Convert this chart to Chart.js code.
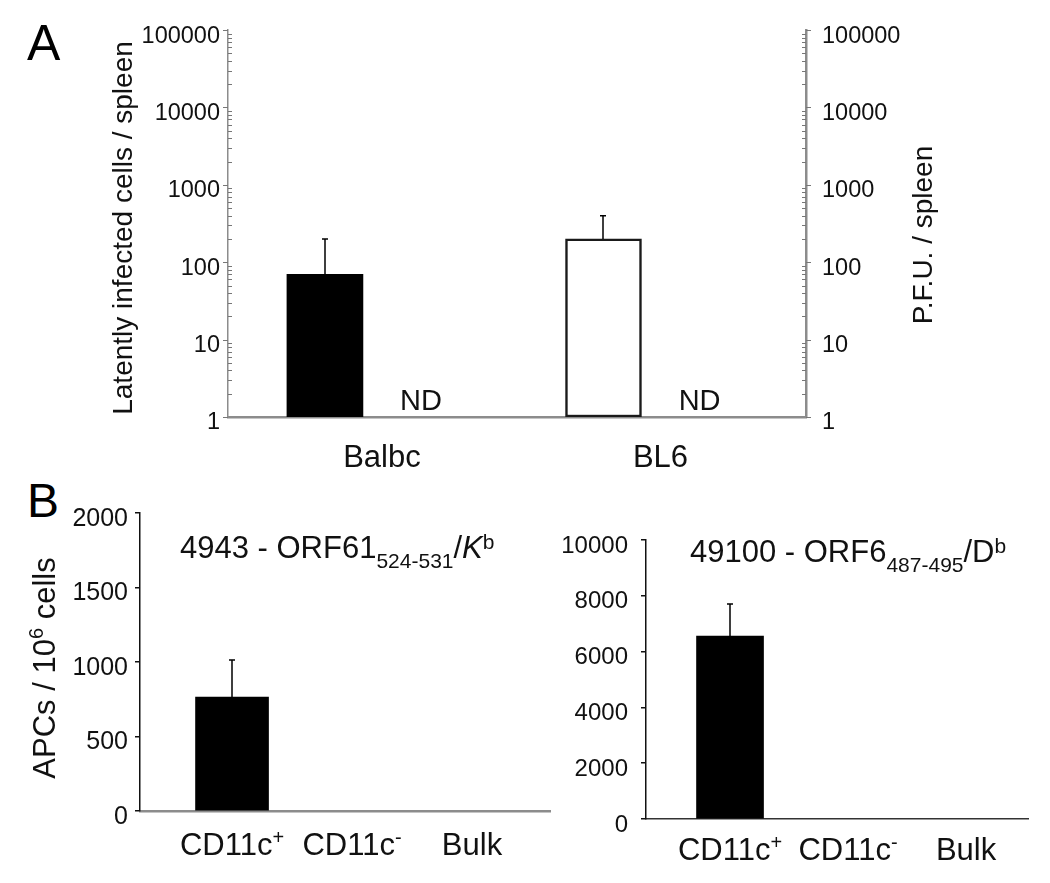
<!DOCTYPE html>
<html>
<head>
<meta charset="utf-8">
<title>Latency and APC frequency</title>
<script src="https://cdn.jsdelivr.net/npm/chart.js@4.4.1/dist/chart.umd.min.js"></script>
<style>
  html, body { margin: 0; padding: 0; background: #fff; }
  #page { position: relative; width: 1050px; height: 883px; overflow: hidden; }
  #page canvas { position: absolute; }
  .letter { position: absolute; font-family: 'Liberation Sans', Arial, sans-serif; line-height: 1; color: #000; }
</style>
</head>
<body>
<div id="page">
  <div class="letter" style="left:27px; top:18px; font-size:50px">A</div>
  <div class="letter" style="left:27px; top:477px; font-size:48px">B</div>
  <canvas id="chartA" width="1050" height="490" style="left:0; top:0"></canvas>
  <canvas id="chartB1" width="560" height="403" style="left:0; top:480px"></canvas>
  <canvas id="chartB2" width="520" height="403" style="left:530px; top:480px"></canvas>
</div>
<script>
const FONT = "'Liberation Sans', Arial, Helvetica, sans-serif";
Chart.defaults.font.family = FONT;
Chart.defaults.color = '#111';
Chart.defaults.animation = false;
Chart.defaults.responsive = false;
Chart.defaults.plugins.legend.display = false;
Chart.defaults.plugins.tooltip.enabled = false;

// A - latent load (left axis) and P.F.U. (right axis) per spleen
const strains = ['Balbc', 'BL6'];
const strainColors = ['#000000', '#ffffff'];
const latentCells = [70, 200];
const latentCellsSD = [130, 200];
const pfuPerSpleen = [null, null];   // ND
const logTickLabels = [1, 10, 100, 1000, 10000, 100000];

// B - APCs / 10^6 cells
const cellTypes = ['CD11c', 'CD11c', 'Bulk'];
const cellTypeSup = ['+', '-', ''];
const apc4943 = [765, 0, 0];
const apc4943SD = [248, 0, 0];
const apc49100 = [6560, 0, 0];
const apc49100SD = [1150, 0, 0];
const ticks4943 = [0, 500, 1000, 1500, 2000];
const ticks49100 = [0, 2000, 4000, 6000, 8000, 10000];

// log axis ticks: decades plus 2..9 in between
const logTicks = [];
logTickLabels.forEach((d, i) => {
    logTicks.push(d);
    if (i < logTickLabels.length - 1) {
        for (let k = 2; k <= 9; k++) logTicks.push(d * k);
    }
});

const ND_SHIFT = 0.345;   // PFU slot next to each strain bar

function richFont(p) {
    return (p.italic ? 'italic ' : '') + p.size + 'px ' + FONT;
}

// draws text made of parts (sub/superscripts), left or centered at x
function drawRich(ctx, parts, x, y, align) {
    let w = 0;
    const widths = parts.map(p => {
        ctx.font = richFont(p);
        const pw = ctx.measureText(p.text).width;
        w += pw;
        return pw;
    });
    let cx = align === 'center' ? x - w / 2 : x;
    ctx.textAlign = 'left';
    ctx.textBaseline = 'alphabetic';
    parts.forEach((p, i) => {
        ctx.font = richFont(p);
        ctx.fillText(p.text, cx, y + (p.dy || 0));
        cx += widths[i];
    });
}

function drawRotated(ctx, parts, x, y) {
    ctx.save();
    ctx.translate(x, y);
    ctx.rotate(-Math.PI / 2);
    drawRich(ctx, parts, 0, 0, 'center');
    ctx.restore();
}

const errorBars = {
    id: 'errorBars',
    afterDatasetsDraw(chart, args, opts) {
        const di = opts.dataset || 0;
        const meta = chart.getDatasetMeta(di);
        const yScale = chart.scales[meta.yAxisID];
        const points = chart.data.datasets[di].data;
        const ctx = chart.ctx;
        ctx.save();
        ctx.strokeStyle = '#000';
        ctx.lineWidth = 1.5;
        meta.data.forEach((bar, i) => {
            const sd = opts.sd[i];
            if (!sd) return;
            const v = points[i].y;
            const x = Math.round(bar.x);
            const y0 = yScale.getPixelForValue(v);
            const y1 = yScale.getPixelForValue(v + sd);
            ctx.beginPath();
            ctx.moveTo(x, y0);
            ctx.lineTo(x, y1);
            ctx.moveTo(x - 3, y1);
            ctx.lineTo(x + 3, y1);
            ctx.stroke();
        });
        ctx.restore();
    }
};

// major ticks outside, minor ticks inside the plot
const logTickMarks = {
    id: 'logTickMarks',
    afterDraw(chart) {
        const ctx = chart.ctx;
        ['y', 'y2'].forEach(id => {
            const s = chart.scales[id];
            const out = s.position === 'left' ? -1 : 1;
            const x0 = s.position === 'left' ? s.right : s.left;
            ctx.save();
            ctx.strokeStyle = '#777';
            ctx.lineWidth = 1;
            s.ticks.forEach(t => {
                const major = logTickLabels.includes(t.value);
                const y = Math.round(s.getPixelForValue(t.value)) + 0.5;
                ctx.beginPath();
                ctx.moveTo(x0, y);
                ctx.lineTo(x0 + (major ? out * 5 : -out * 4), y);
                ctx.stroke();
            });
            ctx.restore();
        });
    }
};

const textA = {
    id: 'textA',
    afterDraw(chart) {
        const ctx = chart.ctx;
        const xs = chart.scales.x;
        ctx.save();
        ctx.fillStyle = '#111';
        ctx.font = '29px ' + FONT;
        ctx.textAlign = 'center';
        ctx.textBaseline = 'alphabetic';
        pfuPerSpleen.forEach((v, i) => {
            if (v == null) ctx.fillText('ND', xs.getPixelForValue(i + ND_SHIFT), chart.chartArea.bottom - 7);
        });
        drawRotated(ctx, [{ text: 'Latently infected cells / spleen', size: 28 }], 132, 228);
        drawRotated(ctx, [{ text: 'P.F.U. / spleen', size: 28 }], 932, 235);
        ctx.restore();
    }
};

function logAxis(position, width, padding, borderWidth) {
    return {
        type: 'logarithmic',
        position: position,
        min: 1,
        max: 100000,
        afterBuildTicks: s => { s.ticks = logTicks.map(v => ({ value: v })); },
        ticks: {
            autoSkip: false,
            padding: padding,
            labelOffset: 6,
            color: '#111',
            font: { size: 23.5 },
            callback: v => logTickLabels.includes(v) ? String(v) : ''
        },
        grid: { display: false, drawOnChartArea: false, drawTicks: false },
        border: { display: true, color: '#8c8c8c', width: borderWidth },
        afterFit: s => { s.width = width; }
    };
}

new Chart(document.getElementById('chartA'), {
    type: 'bar',
    data: {
        datasets: [
            {
                label: 'Latently infected cells / spleen',
                data: strains.map((s, i) => ({ x: i, y: latentCells[i] })),
                yAxisID: 'y',
                backgroundColor: strainColors,
                borderColor: '#1a1a1a',
                borderWidth: [0, 2.5],
                borderSkipped: false,
                barThickness: 76,
                grouped: false
            },
            {
                label: 'P.F.U. / spleen',
                data: strains.map((s, i) => ({ x: i + ND_SHIFT, y: pfuPerSpleen[i] })),
                yAxisID: 'y2',
                backgroundColor: '#000',
                barThickness: 76,
                grouped: false
            }
        ]
    },
    options: {
        layout: { padding: { top: 27, left: 0, right: 0, bottom: 0 } },
        scales: {
            x: {
                type: 'linear',
                min: -0.348,
                max: 1.727,
                offset: false,
                afterBuildTicks: s => { s.ticks = strains.map((n, i) => ({ value: i })); },
                ticks: {
                    autoSkip: false,
                    maxRotation: 0,
                    padding: 23,
                    labelOffset: 57,
                    color: '#111',
                    font: { size: 31 },
                    callback: v => strains[v]
                },
                grid: { display: false, drawTicks: false },
                border: { color: '#8c8c8c', width: 2.5 },
                afterFit: s => { s.height = 73; }
            },
            y: logAxis('left', 228, 8, 1.5),
            y2: logAxis('right', 244, 16, 2.5)
        },
        plugins: { errorBars: { sd: latentCellsSD, dataset: 0 } }
    },
    plugins: [errorBars, logTickMarks, textA]
});

function panelB(id, o) {
    const textB = {
        id: 'textB',
        afterDraw(chart) {
            const ctx = chart.ctx;
            const xs = chart.scales.x;
            ctx.save();
            ctx.fillStyle = '#111';
            drawRich(ctx, o.title, o.titleX, o.titleY, 'left');
            cellTypes.forEach((c, i) => {
                drawRich(ctx, [
                    { text: c, size: 31 },
                    { text: cellTypeSup[i], size: 20, dy: -11 }
                ], xs.getPixelForValue(i), chart.chartArea.bottom + o.labelGap, 'center');
            });
            if (o.yTitle) drawRotated(ctx, o.yTitle, o.yTitleX, o.yTitleY);
            ctx.restore();
        }
    };
    new Chart(document.getElementById(id), {
        type: 'bar',
        data: {
            datasets: [{
                label: o.label,
                data: cellTypes.map((c, i) => ({ x: i, y: o.values[i] })),
                backgroundColor: c => (c.raw && c.raw.y > 0) ? '#000' : 'rgba(0,0,0,0)',
                borderWidth: 0,
                barThickness: o.barWidth
            }]
        },
        options: {
            layout: { padding: { top: o.top, right: o.right, left: 0, bottom: 0 } },
            scales: {
                x: {
                    type: 'linear',
                    min: o.xMin,
                    max: o.xMax,
                    offset: false,
                    ticks: { display: false },
                    grid: { display: false, drawTicks: false },
                    border: { color: o.baseColor, width: o.baseWidth },
                    afterFit: s => { s.height = o.xHeight; }
                },
                y: {
                    min: 0,
                    max: o.ticks[o.ticks.length - 1],
                    afterBuildTicks: s => { s.ticks = o.ticks.map(v => ({ value: v })); },
                    ticks: {
                        padding: o.tickPad,
                        labelOffset: 6,
                        color: '#111',
                        font: { size: o.tickSize },
                        callback: v => String(v)
                    },
                    grid: { drawOnChartArea: false, drawTicks: true, tickLength: 5, color: '#111', lineWidth: 1.5 },
                    border: { color: '#111', width: 1.5 },
                    afterFit: s => { s.width = o.yWidth; }
                }
            },
            plugins: { errorBars: { sd: o.sd, dataset: 0 } }
        },
        plugins: [errorBars, textB]
    });
}

panelB('chartB1', {
    label: '4943 - ORF61 524-531/Kb',
    values: apc4943, sd: apc4943SD, ticks: ticks4943,
    barWidth: 73, top: 33, right: 10, xHeight: 72, yWidth: 140,
    xMin: -0.767, xMax: 2.65,
    baseColor: '#8c8c8c', baseWidth: 2.5, tickPad: 7, tickSize: 25, labelGap: 44,
    title: [
        { text: '4943 - ORF61', size: 31 },
        { text: '524-531', size: 21, dy: 10 },
        { text: '/', size: 31 },
        { text: 'K', size: 31, italic: true },
        { text: 'b', size: 21, dy: -9 }
    ],
    titleX: 180, titleY: 78,
    yTitle: [
        { text: 'APCs / 10', size: 31 },
        { text: '6', size: 20, dy: -12 },
        { text: ' cells', size: 31 }
    ],
    yTitleX: 55, yTitleY: 188
});

panelB('chartB2', {
    label: '49100 - ORF6 487-495/Db',
    values: apc49100, sd: apc49100SD, ticks: ticks49100,
    barWidth: 67, top: 60, right: 22, xHeight: 64, yWidth: 116,
    xMin: -0.712, xMax: 2.525,
    baseColor: '#333', baseWidth: 1.5, tickPad: 13, tickSize: 24, labelGap: 41,
    title: [
        { text: '49100 - ORF6', size: 31 },
        { text: '487-495', size: 21, dy: 10 },
        { text: '/D', size: 31 },
        { text: 'b', size: 21, dy: -9 }
    ],
    titleX: 160, titleY: 82
});
</script>
</body>
</html>
